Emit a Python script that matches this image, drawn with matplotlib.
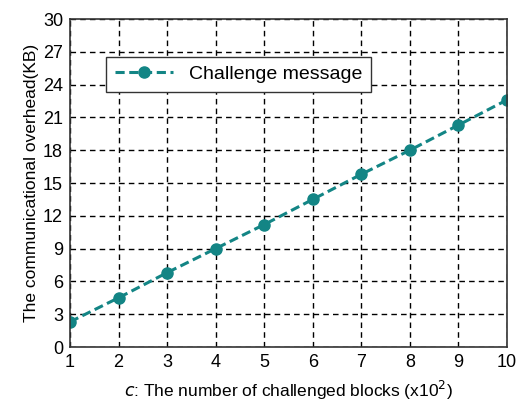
import numpy as np
import matplotlib.pyplot as plt

# Données
blocks = [1, 2, 3, 4, 5, 6, 7, 8, 9, 10]
overhead = [2.3, 4.5, 6.8, 9.0, 11.2, 13.5, 15.8, 18.0, 20.3, 22.6]
y_ticks = [0, 3, 6, 9, 12, 15, 18, 21, 24, 27, 30]

plt.rcParams['font.family'] = ['Liberation Sans', 'DejaVu Sans']

fig = plt.figure(figsize=(5.19, 4.05), dpi=100)
ax = fig.add_axes([70 / 519, 1 - 347 / 405, 437 / 519, 328 / 405])

teal = '#138585'
ax.plot(blocks, overhead, linestyle='--', color=teal, linewidth=2.2,
        marker='o', markersize=8, dashes=(3, 1.5), label='Challenge message')

ax.set_xlim(1, 10)
ax.set_ylim(0, 30)
ax.set_xticks(blocks)
ax.set_yticks(y_ticks)
ax.tick_params(direction='in', length=0, labelsize=13, pad=5)
ax.grid(True, color='black', linestyle=(0, (4, 3)), linewidth=1.0)

for s in ax.spines.values():
    s.set_linewidth(1.2)
    s.set_color('#333333')

ax.set_xlabel(r'$c$: The number of challenged blocks (x10$^2$)', fontsize=12.5, labelpad=6)
ax.set_ylabel('The communicational overhead(KB)', fontsize=12.5, labelpad=3)

leg = ax.legend(loc='upper left', bbox_to_anchor=(0.06, 0.915), fontsize=14,
                fancybox=False, framealpha=1, edgecolor='#333333',
                handlelength=3, borderpad=0.45)
leg.get_frame().set_linewidth(1.0)

fig.savefig('out.png', dpi=100)
